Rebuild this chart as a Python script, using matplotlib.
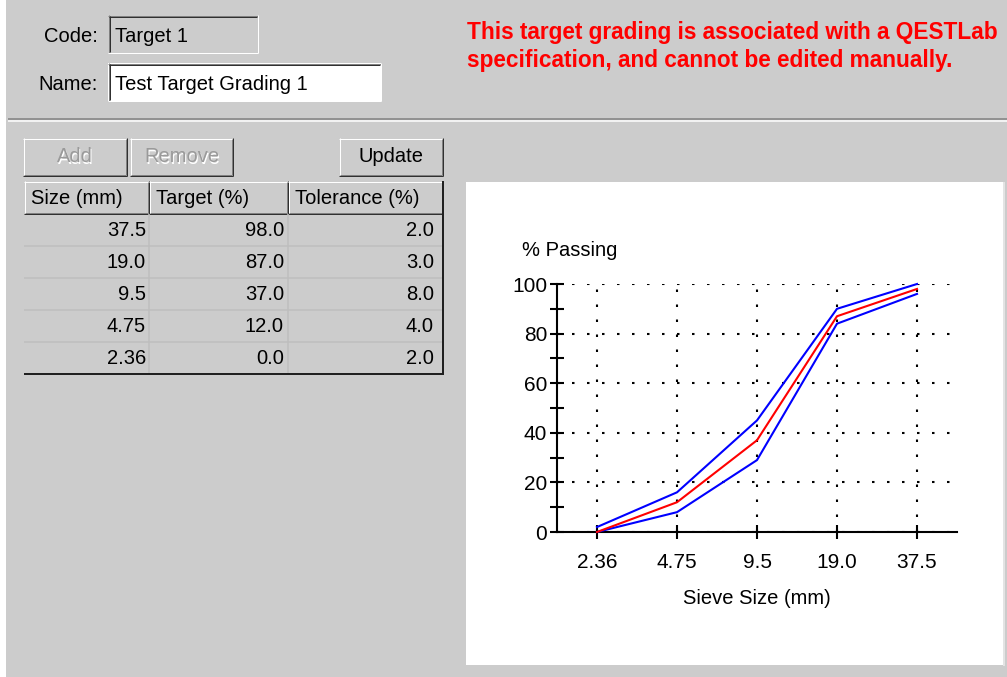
import matplotlib
matplotlib.use("Agg")
import matplotlib.pyplot as plt
from matplotlib.patches import Rectangle
import numpy as np

# data
sizes = ["37.5", "19.0", "9.5", "4.75", "2.36"]
target = [98.0, 87.0, 37.0, 12.0, 0.0]
tolerance = [2.0, 3.0, 8.0, 4.0, 2.0]
code_text = "Target 1"
name_text = "Test Target Grading 1"
warning = ["This target grading is associated with a QESTLab",
           "specification, and cannot be edited manually."]

W, H = 1007, 677
BG = "#CCCCCC"
plt.rcParams["font.family"] = ["Liberation Sans", "DejaVu Sans"]
FS = 14.5
PX = 0.72  # one pixel in points at dpi 100

fig = plt.figure(figsize=(W / 100, H / 100), dpi=100, facecolor=BG)
ui = fig.add_axes([0, 0, 1, 1])
ui.set_xlim(0, W)
ui.set_ylim(H, 0)
ui.axis("off")


def hline(x0, x1, y, c, lw=1):
    ui.plot([x0, x1], [y, y], color=c, lw=lw * PX, solid_capstyle="butt")


def vline(x, y0, y1, c, lw=1):
    ui.plot([x, x], [y0, y1], color=c, lw=lw * PX, solid_capstyle="butt")


def bevel(x0, y0, x1, y1, raised=True, fill=BG):
    ui.add_patch(Rectangle((x0, y0), x1 - x0, y1 - y0, facecolor=fill, edgecolor="none"))
    light, dark, darker = "#FFFFFF", "#808080", "#303030"
    if raised:
        hline(x0, x1, y0 + 0.5, light)
        vline(x0 + 0.5, y0, y1, light)
        hline(x0, x1, y1 - 0.5, darker)
        vline(x1 - 0.5, y0, y1, darker)
        hline(x0 + 1, x1 - 1, y1 - 1.5, dark)
        vline(x1 - 1.5, y0 + 1, y1 - 1, dark)
    else:
        hline(x0, x1, y0 + 0.5, dark)
        vline(x0 + 0.5, y0, y1, dark)
        hline(x0 + 1, x1 - 1, y0 + 1.5, darker)
        vline(x0 + 1.5, y0 + 1, y1 - 1, darker)
        hline(x0, x1, y1 - 0.5, light)
        vline(x1 - 0.5, y0, y1, light)


# window background pieces
ui.add_patch(Rectangle((0, 0), 6, H, facecolor="white", edgecolor="none"))
hline(8, W, 118.5, "#808080", 1.5)
hline(8, W, 120.5, "#FFFFFF", 1.5)

# code / name fields
ui.text(98, 37, "Code:", ha="right", va="center", fontsize=FS)
bevel(108, 15, 258, 53, raised=False, fill=BG)
ui.text(115, 36, code_text, ha="left", va="center", fontsize=FS)
ui.text(98, 84, "Name:", ha="right", va="center", fontsize=FS)
bevel(108, 63, 381, 101, raised=False, fill="white")
ui.text(115, 84, name_text, ha="left", va="center", fontsize=FS)

# warning text
for i, line in enumerate(warning):
    ui.text(467, 32 + 28 * i, line, ha="left", va="center", color="#FF0000",
            fontsize=16.3, fontweight="bold")

# buttons
for (x0, x1, label, enabled) in [(23, 127, "Add", False), (130, 233, "Remove", False),
                                  (339, 443, "Update", True)]:
    bevel(x0, 138, x1, 176, raised=True)
    cx = (x0 + x1) / 2
    if enabled:
        ui.text(cx, 157, label, ha="center", va="center", fontsize=FS)
    else:
        ui.text(cx + 1, 158, label, ha="center", va="center", fontsize=FS, color="white")
        ui.text(cx, 157, label, ha="center", va="center", fontsize=FS, color="#9A9A9A")

# table
col_x = [24, 149, 288, 443]
val_right = [146, 284, 434]
headers = ["Size (mm)", "Target (%)", "Tolerance (%)"]
for j, h in enumerate(headers):
    bevel(col_x[j], 181, col_x[j + 1], 214, raised=True)
    ui.text(col_x[j] + 7, 198, h, ha="left", va="center", fontsize=FS)
row_h = 32
top = 214
for i in range(len(sizes)):
    y0 = top + i * row_h
    vals = [sizes[i], f"{target[i]:.1f}", f"{tolerance[i]:.1f}"]
    for j, v in enumerate(vals):
        ui.text(val_right[j], y0 + row_h / 2 + 1, v, ha="right", va="center", fontsize=FS)
    if i < len(sizes) - 1:
        hline(col_x[0], col_x[-1], y0 + row_h, "#BEBEBE", 1.5)
for xv in col_x[1:-1]:
    vline(xv, top, top + row_h * len(sizes), "#BEBEBE", 1.5)
hline(col_x[0], col_x[-1] + 1, top + row_h * len(sizes), "#202020", 2)
vline(col_x[-1], 181, top + row_h * len(sizes), "#202020", 2)

# chart panel
ui.add_patch(Rectangle((466, 182), 537, 483, facecolor="white", edgecolor="none"))
vline(1004, 182, 666, "#E4E4E4", 2)

# chart
ax = fig.add_axes([557 / W, (H - 532) / H, 400 / W, 248 / H])
ax.patch.set_visible(False)
x = np.arange(len(sizes))
tgt = np.array(target[::-1])
tol = np.array(tolerance[::-1])
ax.plot(x, np.clip(tgt + tol, 0, 100), color="#0000FF", lw=1.5, clip_on=False, zorder=3)
ax.plot(x, np.clip(tgt - tol, 0, 100), color="#0000FF", lw=1.5, clip_on=False, zorder=3)
ax.plot(x, tgt, color="#FF0000", lw=1.5, clip_on=False, zorder=4)

ax.set_xlim(-0.5, 4.5)
ax.set_ylim(0, 100)
ax.set_xticks(x)
ax.set_xticklabels(sizes[::-1])
ax.set_yticks(np.arange(0, 101, 20))
ax.set_yticks(np.arange(10, 100, 20), minor=True)
ax.grid(True, which="major", color="black", linestyle=(0, (1.2, 6)), linewidth=1.5)
ax.set_axisbelow(True)
for s in ["top", "right"]:
    ax.spines[s].set_visible(False)
for s in ["left", "bottom"]:
    ax.spines[s].set_linewidth(1.5)
ax.tick_params(axis="both", which="both", direction="inout", length=10, width=1.5,
               labelsize=15)
ax.tick_params(axis="x", pad=10)
ax.tick_params(axis="y", pad=2)

ax.set_xlabel("Sieve Size (mm)", fontsize=FS, va="center")
ax.xaxis.set_label_coords(0.5, (532 - 598) / 248)
ax.set_ylabel("% Passing", fontsize=FS, rotation=0, ha="left", va="center")
ax.yaxis.set_label_coords((522 - 557) / 400, (532 - 250) / 248)

fig.savefig("out.png", dpi=100, facecolor=BG)
